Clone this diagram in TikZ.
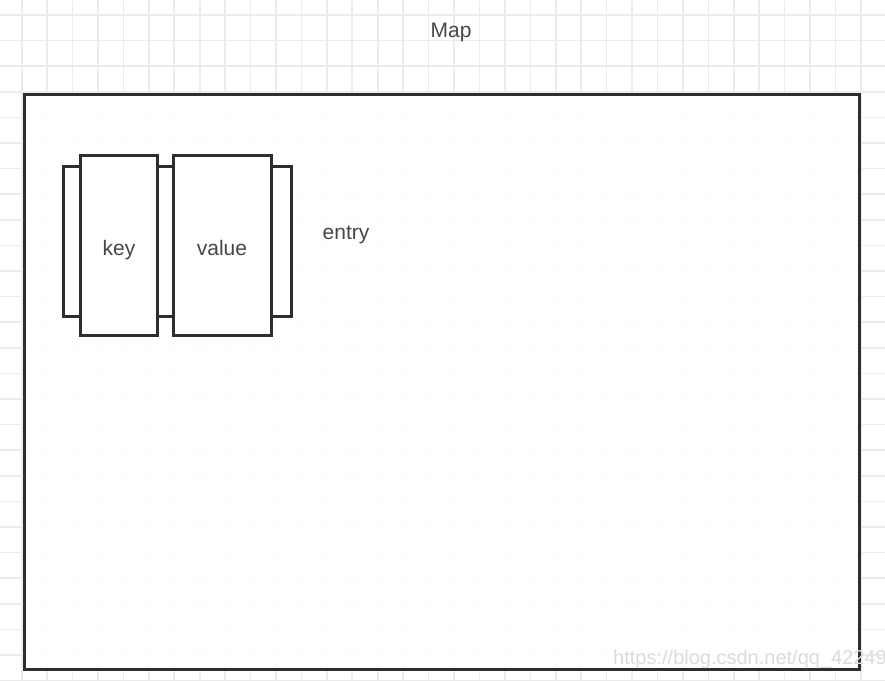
\documentclass[tikz,border=0pt]{standalone}
\usepackage{fontspec}
\setmainfont{Liberation Sans}
\begin{document}
\begin{tikzpicture}[x=1pt,y=-1pt,
  gridline/.style={draw=black!8, line width=1.6pt},
  boxline/.style={draw=black!82, line width=3pt, fill=white, inner sep=0pt},
  lbl/.style={text=black!72, font=\fontsize{21}{25}\selectfont, inner sep=0pt, anchor=base}]
\useasboundingbox (0,0) rectangle (885,680);
\begin{scope}
\clip (0,0) rectangle (885,680);
\foreach \i in {0,...,34} \draw[gridline] ({21.7+25.43*\i},0) -- ++(0,680);
\foreach \j in {0,...,26} \draw[gridline] (0,{15+25.6*\j}) -- ++(885,0);
\end{scope}
\node[boxline, fill opacity=0.93, text opacity=1, minimum width=835pt, minimum height=575pt] (map) at (441.5,381.5) {};
\node[boxline, minimum width=228pt, minimum height=150pt] (entrybox) at (177,241) {};
\node[boxline, minimum width=77pt, minimum height=180pt] (keybox) at (119.2,245) {};
\node[boxline, minimum width=97.7pt, minimum height=180pt] (valuebox) at (222.2,245) {};
\node[lbl] (keylbl) at (119,255) {key};
\node[lbl] (valuelbl) at (222,255) {value};
\node[lbl] (entrylbl) at (346,239) {entry};
\node[lbl] (maplbl) at (451,37) {Map};
\begin{scope}
\clip (0,0) rectangle (885,680);
\node[text=black!14, font=\fontsize{20}{24}\selectfont, anchor=base west, inner sep=0pt] (wm) at (613,664) {https://blog.csdn.net/qq\_42249};
\end{scope}
\end{tikzpicture}
\end{document}
